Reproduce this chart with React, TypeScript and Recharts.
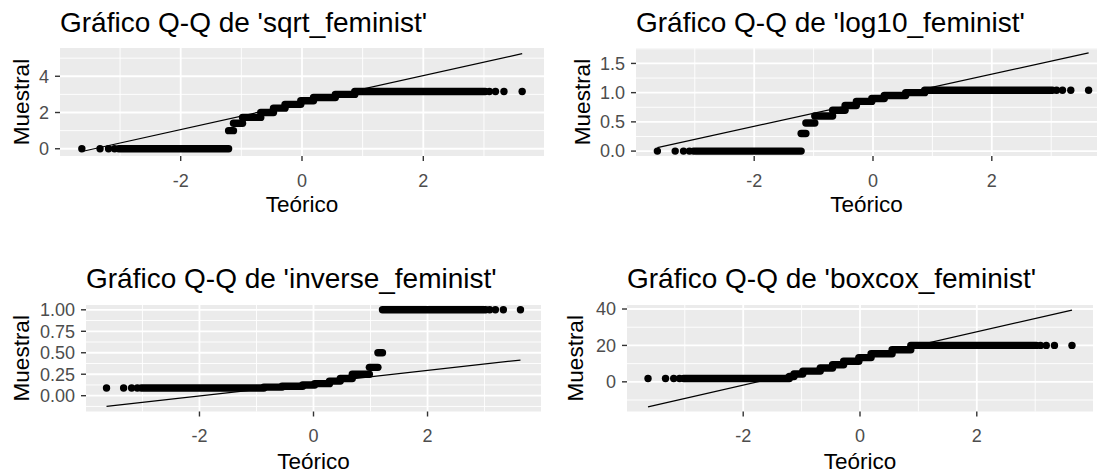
import React from 'react';
import { ComposedChart, XAxis, YAxis, CartesianGrid, Scatter, ReferenceLine } from 'recharts';

const FONT = '"Liberation Sans", Arial, Helvetica, sans-serif';

// theoretical quantiles of the isolated tail points
const tailLowX = [-3.63, -3.33, -3.19, -3.09];
const tailHighX = [3.09, 3.19, 3.33, 3.63];

// theoretical-quantile edges of the runs of tied sample values (in x order)
const runEdges = [-3.02, -1.21, -1.13, -0.98, -0.68, -0.47, -0.28, -0.02, 0.19, 0.55, 0.87, 3.02];
const inverseRunEdges = [-3.02, -0.87, -0.55, -0.19, 0.02, 0.28, 0.47, 0.68, 0.98, 1.13, 1.21, 3.02];

// sample levels of each run (in x order)
const sqrtLevels = [0, 1, 1.41, 1.73, 2, 2.24, 2.45, 2.65, 2.83, 3, 3.16];
const log10Levels = [0, 0.3, 0.48, 0.6, 0.7, 0.78, 0.85, 0.9, 0.95, 1.0, 1.04];
const inverseLevels = [0.09, 0.1, 0.11, 0.125, 0.14, 0.17, 0.2, 0.25, 0.33, 0.5, 1.0];
const boxcoxLevels = [1.8, 2.9, 4.3, 5.9, 7.6, 9.4, 11.3, 13.3, 15.4, 17.6, 20.0];

// qq reference lines (end points)
const sqrtLine = [{ x: -3.63, y: -0.15 }, { x: 3.63, y: 5.25 }];
const log10Line = [{ x: -3.63, y: 0.06 }, { x: 3.63, y: 1.68 }];
const inverseLine = [{ x: -3.63, y: -0.125 }, { x: 3.63, y: 0.415 }];
const boxcoxLine = [{ x: -3.63, y: -13.8 }, { x: 3.63, y: 39.4 }];

// axes
const xDomain = [-3.99, 3.99];
const xMajor = [-2, 0, 2];
const xMinor = [-3, -1, 1, 3];

const sqrtYDomain = [-0.4, 5.56];
const sqrtYMajor = [0, 2, 4];
const sqrtYMinor = [1, 3, 5];

const log10YDomain = [-0.084, 1.764];
const log10YMajor = [0, 0.5, 1.0, 1.5];
const log10YMinor = [0.25, 0.75, 1.25, 1.75];

const inverseYDomain = [-0.184, 1.056];
const inverseYMajor = [0, 0.25, 0.5, 0.75, 1.0];
const inverseYMinor = [-0.125, 0.125, 0.375, 0.625, 0.875];

const boxcoxYDomain = [-16.3, 42.2];
const boxcoxYMajor = [0, 20, 40];
const boxcoxYMinor = [-10, 10, 30];

const titles = [
  "Gráfico Q-Q de 'sqrt_feminist'",
  "Gráfico Q-Q de 'log10_feminist'",
  "Gráfico Q-Q de 'inverse_feminist'",
  "Gráfico Q-Q de 'boxcox_feminist'",
];
const xTitle = 'Teórico';
const yTitle = 'Muestral';

type Pt = { x: number; y: number };
type Panel = {
  title: string;
  levels: number[];
  edges: number[];
  line: Pt[];
  yDomain: number[];
  yMajor: number[];
  yMinor: number[];
  fmt: (v: number) => string;
  left: number;
  top: number;
  width: number;
  height: number;
  pL: number;
  pR: number;
  pT: number;
  pB: number;
  yTitleX: number;
  titleY: number;
  xTitleY: number;
};

const panels: Panel[] = [
  {
    title: titles[0], levels: sqrtLevels, edges: runEdges, line: sqrtLine,
    yDomain: sqrtYDomain, yMajor: sqrtYMajor, yMinor: sqrtYMinor, fmt: (v) => String(v),
    left: 0, top: 0, width: 548, height: 236,
    pL: 60, pR: 544, pT: 48, pB: 156, yTitleX: 29, titleY: 32, xTitleY: 212,
  },
  {
    title: titles[1], levels: log10Levels, edges: runEdges, line: log10Line,
    yDomain: log10YDomain, yMajor: log10YMajor, yMinor: log10YMinor, fmt: (v) => v.toFixed(1),
    left: 548, top: 0, width: 570, height: 236,
    pL: 636, pR: 1110, pT: 48, pB: 156, yTitleX: 590, titleY: 32, xTitleY: 212,
  },
  {
    title: titles[2], levels: inverseLevels, edges: inverseRunEdges, line: inverseLine,
    yDomain: inverseYDomain, yMajor: inverseYMajor, yMinor: inverseYMinor, fmt: (v) => v.toFixed(2),
    left: 0, top: 240, width: 548, height: 233,
    pL: 86, pR: 541, pT: 305, pB: 411.5, yTitleX: 29, titleY: 288, xTitleY: 469,
  },
  {
    title: titles[3], levels: boxcoxLevels, edges: runEdges, line: boxcoxLine,
    yDomain: boxcoxYDomain, yMajor: boxcoxYMajor, yMinor: boxcoxYMinor, fmt: (v) => String(v),
    left: 548, top: 240, width: 549, height: 233,
    pL: 627, pR: 1093, pT: 305, pB: 411.5, yTitleX: 583, titleY: 288, xTitleY: 469,
  },
];

const DOT_R = 3.7;

function Dot(props: any) {
  const { cx, cy } = props;
  if (cx == null || cy == null) return null;
  return <circle cx={cx} cy={cy} r={DOT_R} fill="#000000" />;
}

const tickStyle = { fill: '#4D4D4D', fontSize: 18, fontFamily: FONT };

function QQPanel({ p }: { p: Panel }) {
  const runs = p.levels.map((y, i) => ({ x1: p.edges[i], x2: p.edges[i + 1], y }));
  const tails: Pt[] = [
    ...tailLowX.map((x) => ({ x, y: p.levels[0] })),
    ...tailHighX.map((x) => ({ x, y: p.levels[p.levels.length - 1] })),
  ];
  const xAxisH = 34;
  const margin = {
    top: p.pT - p.top,
    right: p.left + p.width - p.pR,
    bottom: p.top + p.height - p.pB - xAxisH,
    left: 0,
  };
  return (
    <div style={{ position: 'absolute', left: p.left, top: p.top }}>
      <ComposedChart width={p.width} height={p.height} margin={margin}>
        <CartesianGrid
          fill="#EBEBEB"
          stroke="#FFFFFF"
          strokeWidth={0.9}
          verticalValues={xMinor}
          horizontalValues={p.yMinor}
        />
        <CartesianGrid
          stroke="#FFFFFF"
          strokeWidth={1.8}
          verticalValues={xMajor}
          horizontalValues={p.yMajor}
        />
        <XAxis
          type="number"
          dataKey="x"
          domain={xDomain}
          ticks={xMajor}
          allowDataOverflow
          height={xAxisH}
          axisLine={false}
          tickSize={5}
          tickMargin={13}
          tickLine={{ stroke: '#333333', strokeWidth: 1.4 }}
          tick={tickStyle}
          interval={0}
        />
        <YAxis
          type="number"
          dataKey="y"
          domain={p.yDomain}
          ticks={p.yMajor}
          allowDataOverflow
          width={p.pL - p.left}
          axisLine={false}
          tickSize={5}
          tickMargin={6}
          tickLine={{ stroke: '#333333', strokeWidth: 1.4 }}
          tick={tickStyle}
          tickFormatter={p.fmt}
          interval={0}
        />
        {runs.map((r, i) => (
          <ReferenceLine
            key={'run' + i}
            segment={[{ x: r.x1, y: r.y }, { x: r.x2, y: r.y }]}
            stroke="#000000"
            strokeWidth={DOT_R * 2}
            strokeLinecap="round"
            ifOverflow="visible"
          />
        ))}
        <ReferenceLine segment={p.line} stroke="#000000" strokeWidth={1.2} ifOverflow="visible" />
        <Scatter data={tails} dataKey="y" isAnimationActive={false} shape={Dot} />
      </ComposedChart>
    </div>
  );
}

export default function App() {
  return (
    <div
      style={{
        position: 'absolute',
        left: 0,
        top: 0,
        width: 1097,
        height: 473,
        overflow: 'hidden',
        background: '#FFFFFF',
        fontFamily: FONT,
      }}
    >
      {panels.map((p, i) => (
        <QQPanel key={i} p={p} />
      ))}
      <svg
        width={1097}
        height={473}
        style={{ position: 'absolute', left: 0, top: 0, pointerEvents: 'none' }}
      >
        {panels.map((p, i) => (
          <g key={i} fontFamily={FONT}>
            <text x={p.pL} y={p.titleY} fontSize={28} fill="#000000">
              {p.title}
            </text>
            <text x={(p.pL + Math.min(p.pR, 1097)) / 2} y={p.xTitleY} fontSize={22.5} fill="#000000" textAnchor="middle">
              {xTitle}
            </text>
            <text
              x={p.yTitleX}
              y={(p.pT + p.pB) / 2}
              fontSize={22.5}
              fill="#000000"
              textAnchor="middle"
              transform={`rotate(-90 ${p.yTitleX} ${(p.pT + p.pB) / 2})`}
            >
              {yTitle}
            </text>
          </g>
        ))}
      </svg>
    </div>
  );
}
